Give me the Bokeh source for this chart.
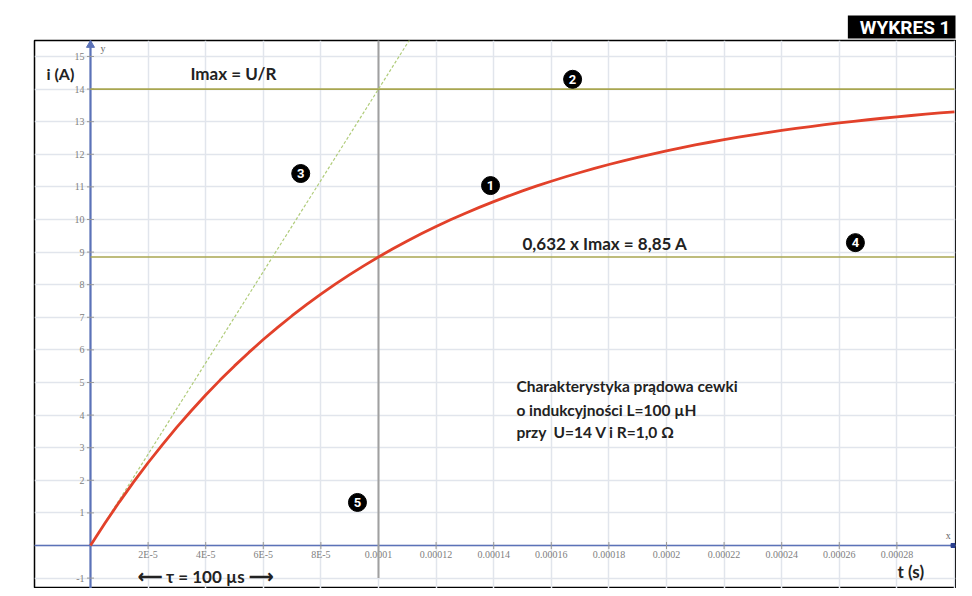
import numpy as np
from bokeh.plotting import figure
from bokeh.models import Range1d, Grid, FixedTicker
from bokeh.core.properties import value
from bokeh.embed import file_html
from bokeh.resources import INLINE

# ---- data ----
t_s = [i * 5e-6 for i in range(61)]
i_A = [0.000, 0.683, 1.332, 1.950, 2.538, 3.097, 3.629, 4.134, 4.616, 5.073,
       5.509, 5.923, 6.317, 6.691, 7.048, 7.387, 7.709, 8.016, 8.308, 8.586,
       8.850, 9.101, 9.340, 9.567, 9.783, 9.989, 10.185, 10.371, 10.548, 10.716,
       10.876, 11.029, 11.173, 11.311, 11.442, 11.567, 11.686, 11.799, 11.906,
       12.008, 12.105, 12.198, 12.286, 12.369, 12.449, 12.524, 12.596, 12.665,
       12.730, 12.792, 12.851, 12.907, 12.960, 13.011, 13.059, 13.105, 13.149,
       13.190, 13.230, 13.267, 13.303]
tangent_t = [0.0, 1.12e-4]
tangent_i = [0.0, 15.68]
imax = 14.0
i_tau = 8.85
tau = 1e-4
t_end = 3.0e-4

x_ticks = [2e-5, 4e-5, 6e-5, 8e-5, 1e-4, 1.2e-4, 1.4e-4, 1.6e-4, 1.8e-4,
           2e-4, 2.2e-4, 2.4e-4, 2.6e-4, 2.8e-4]
x_labels = ["2E-5", "4E-5", "6E-5", "8E-5", "0.0001", "0.00012", "0.00014",
            "0.00016", "0.00018", "0.0002", "0.00022", "0.00024", "0.00026",
            "0.00028"]
y_ticks = [-1, 1, 2, 3, 4, 5, 6, 7, 8, 9, 10, 11, 12, 13, 14, 15]
y_labels = [str(v) for v in y_ticks]
x_grid = [-2e-5, 0, 2e-5, 4e-5, 6e-5, 8e-5, 1e-4, 1.2e-4, 1.4e-4, 1.6e-4,
          1.8e-4, 2e-4, 2.2e-4, 2.4e-4, 2.6e-4, 2.8e-4, 3e-4]
y_grid = list(range(-2, 17))

marker_x = [1.389e-4, 1.674e-4, 7.3e-5, 2.656e-4, 9.27e-5]
marker_y = [11.04, 14.30, 11.41, 9.29, 1.32]
marker_txt = ["1", "2", "3", "4", "5"]

AXIS = "#5b72b8"
GRID = "#e1e5ec"
OLIVE = "#a9a650"
RED = "#e2412a"
SANS = value("Lato")
SERIF = value("Liberation Serif")

XMIN, XMAX = -1.944e-5, 3.0035e-4
YMIN, YMAX = -1.319, 15.49

p = figure(width=956, height=588, output_backend="svg", toolbar_location=None,
           x_range=Range1d(XMIN, XMAX), y_range=Range1d(YMIN, YMAX),
           x_axis_type=None, y_axis_type=None,
           min_border_left=34, min_border_right=1, min_border_top=40,
           min_border_bottom=0)
p.outline_line_color = "black"
p.outline_line_width = 1.5
p.background_fill_color = "white"
p.border_fill_color = "white"

p.title.text = "WYKRES 1"
p.title.align = "right"
p.title.text_color = "white"
p.title.background_fill_color = "black"
p.title.text_font = "Roboto"
p.title.text_font_style = "bold"
p.title.text_font_size = "19px"
p.title.standoff = 4
p.title.padding = dict(left=12, right=5, top=0, bottom=0)

p.add_layout(Grid(dimension=0, ticker=FixedTicker(ticks=x_grid),
                  grid_line_color=GRID, grid_line_width=1.5))
p.add_layout(Grid(dimension=1, ticker=FixedTicker(ticks=y_grid),
                  grid_line_color=GRID, grid_line_width=1.5))

# axes drawn as glyphs
p.segment(x0=[0], y0=[YMIN], x1=[0], y1=[YMAX], line_color=AXIS, line_width=2.2)
p.segment(x0=[XMIN], y0=[0], x1=[XMAX], y1=[0], line_color=AXIS, line_width=1.5)
p.scatter(x=[0], y=[15.35], marker="triangle", size=8, color=AXIS)
p.scatter(x=[2.995e-4], y=[0], marker="square", size=4, color="#2a3f8f")

p.scatter(x=[0] * len(y_ticks), y=y_ticks, marker="dash", size=7,
          line_color="#999999", line_width=1)
p.scatter(x=x_ticks, y=[0] * len(x_ticks), marker="dash", angle=np.pi / 2,
          size=7, line_color="#999999", line_width=1)
p.text(x=[0] * len(y_ticks), y=y_ticks, text=y_labels, x_offset=-6,
       text_align="right", text_baseline="middle", text_font=SERIF,
       text_font_size="10px", text_color="#808080")
p.text(x=x_ticks, y=[0] * len(x_ticks), text=x_labels, y_offset=9,
       text_align="center", text_baseline="middle", text_font=SERIF,
       text_font_size="10px", text_color="#808080")
p.text(x=[3.5e-6], y=[15.25], text=["y"], text_font=SERIF, text_font_size="10px",
       text_color="#666666", text_baseline="middle")
p.text(x=[2.97e-4], y=[0.3], text=["x"], text_font=SERIF, text_font_size="10px",
       text_color="#666666", text_baseline="middle")

# reference lines
p.segment(x0=[tau], y0=[-1.0], x1=[tau], y1=[YMAX], line_color="#a0a0a0", line_width=2)
p.segment(x0=[0, 0], y0=[imax, i_tau], x1=[t_end, t_end], y1=[imax, i_tau],
          line_color=OLIVE, line_width=1.6)
p.line(tangent_t, tangent_i, line_color="#b0cc7a", line_width=1.2, line_dash="3 2")
p.line(t_s, i_A, line_color=RED, line_width=2.8, line_join="round")

# numbered markers
p.scatter(x=marker_x, y=marker_y, size=18, color="black")
p.text(x=marker_x, y=marker_y, text=marker_txt, text_align="center",
       text_baseline="middle", text_font=value("Roboto"), text_font_style="bold",
       text_font_size="13px", text_color="white")

# annotations
def txt(x, y, s, size="15px", align="left"):
    p.text(x=[x], y=[y], text=[s], text_align=align, text_baseline="middle",
           text_font=SANS, text_font_style="bold", text_font_size=size,
           text_color="#222222")

txt(-1.53e-5, 14.48, "i (A)", size="16px")
txt(3.47e-5, 14.48, "Imax = U/R", size="17px")
txt(1.5e-4, 9.26, "0,632 x Imax = 8,85 A", size="17px")
txt(1.479e-4, 4.88, "Charakterystyka prądowa cewki", size="15.5px")
txt(1.479e-4, 4.17, "o indukcyjności L=100 µH", size="15.5px")
txt(1.479e-4, 3.47, "przy\u00a0\u00a0U=14 V i R=1,0 Ω", size="15.5px")
txt(2.802e-4, -0.80, "t (s)", size="17px")
txt(4.13e-5, -0.95, "⟵  τ = 100 µs  ⟶", size="17px", align="center")

open("out.html", "w").write(file_html(p, INLINE))
